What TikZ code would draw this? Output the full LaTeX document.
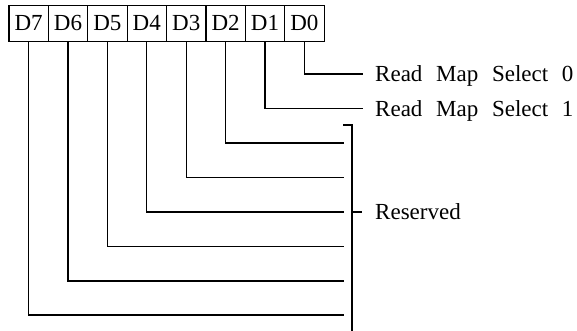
\documentclass[tikz,border=0pt]{standalone}
\usepackage{fontspec}
\setmainfont{Liberation Serif}
\begin{document}
\begin{tikzpicture}[x=1pt,y=-1pt,
  wire/.style={line width=1.2pt, line cap=rect},
  bitbox/.style={draw, line width=1.2pt, minimum width=39.4pt, minimum height=35.7pt,
    inner sep=0pt, anchor=north west, text height=15pt, text depth=0pt,
    font=\fontsize{23}{26}\selectfont},
  lbl/.style={anchor=base west, inner sep=0pt,
    font=\fontsize{23}{26}\selectfont,
    execute at begin node={\spaceskip=13.7pt\relax}}]
\useasboundingbox (0,0) rectangle (577,331);
% register boxes
\foreach \i/\b in {0/7,1/6,2/5,3/4,4/3,5/2,6/1,7/0}{
  \node[bitbox] (b\b) at ({8.3+39.4*\i},5) {D\b};
}
% end points
\coordinate (e0) at (362,74);
\coordinate (e1) at (362,108.5);
\coordinate (e2) at (343,143);
\coordinate (e3) at (343,177.5);
\coordinate (e4) at (343,212);
\coordinate (e5) at (343,246.5);
\coordinate (e6) at (343,281);
\coordinate (e7) at (343,315);
\foreach \b in {0,...,7}{
  \draw[wire] (b\b.south) |- (e\b);
}
% labels
\node[lbl] (l0) at (375,81.7) {Read Map Select 0};
\node[lbl] (l1) at (375,116.2) {Read Map Select 1};
% bracket
\coordinate (btl) at (343,125);
\coordinate (bt) at (352,125);
\coordinate (bb) at (352,334);
\coordinate (rt) at (352,212);
\coordinate (rte) at (362,212);
\draw[wire, line cap=butt] (btl) -- (bt) -- (bb);
\draw[wire, line cap=butt] (rt) -- (rte);
\node[lbl] (lr) at (375,219.7) {Reserved};
\end{tikzpicture}
\end{document}
